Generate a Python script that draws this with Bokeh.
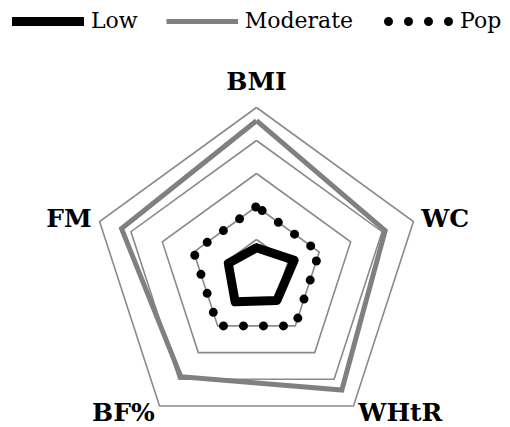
import numpy as np
from bokeh.plotting import figure
from bokeh.models import Range1d, Legend, LegendItem, ColumnDataSource
from bokeh.embed import file_html
from bokeh.resources import INLINE
from bokeh.core.properties import value

categories = ["BMI", "WC", "WHtR", "BF%", "FM"]
low = [0.75, 1.2, 1.05, 1.1, 0.9]
moderate = [4.6, 4.1, 4.4, 3.9, 4.3]
pop = [2.0, 2.0, 2.0, 2.0, 2.0]
grid_levels = [1, 2, 3, 4, 5]

W, H = 510, 427
S = 33.0           # pixels per unit
CX, CY = 256, 272  # centre of the radar inside the figure (px from top-left)
LABEL_R = [5.8, 5.25, 5.25, 5.25, 5.25]
LABEL_ALIGN = ["center", "left", "left", "right", "right"]
FONT = "DejaVu Serif"

angles = np.pi / 2 - 2 * np.pi * np.arange(len(categories)) / len(categories)


def poly(vals):
    v = np.asarray(vals, float)
    xs = v * np.cos(angles)
    ys = v * np.sin(angles)
    return list(np.append(xs, xs[0])), list(np.append(ys, ys[0]))


p = figure(width=W, height=H,
           x_range=Range1d(-CX / S, (W - CX) / S),
           y_range=Range1d(-(H - CY) / S, CY / S),
           output_backend="svg", toolbar_location=None, min_border=0,
           x_axis_type=None, y_axis_type=None)
p.outline_line_color = None
p.background_fill_color = "white"

for lvl in grid_levels:
    gx, gy = poly([lvl] * len(categories))
    p.line(gx, gy, line_color="#8a8a8a", line_width=1.6, line_join="miter")

mx, my = poly(moderate)
r_mod = p.line(mx, my, line_color="#808080", line_width=5, line_join="miter")

px, py = poly(pop)
r_pop = p.line(px, py, line_color="black", line_width=9, line_dash="0 20",
               line_dash_offset=13, line_cap="round", line_join="round")

lx, ly = poly(low)
r_low = p.line(lx, ly, line_color="black", line_width=9, line_join="round",
               line_cap="round")

lab_src = ColumnDataSource(dict(
    x=[r * np.cos(a) for r, a in zip(LABEL_R, angles)],
    y=[r * np.sin(a) for r, a in zip(LABEL_R, angles)],
    text=categories,
    align=LABEL_ALIGN,
))
p.text("x", "y", text="text", source=lab_src, text_align="align",
       text_baseline="middle", text_font=value(FONT), text_font_style="bold",
       text_font_size="25px", text_color="black")

legend = Legend(items=[LegendItem(label="Low", renderers=[r_low]),
                       LegendItem(label="Moderate", renderers=[r_mod]),
                       LegendItem(label="Pop", renderers=[r_pop])],
                orientation="horizontal", location=(12, 394),
                glyph_width=72, glyph_height=20, label_standoff=7,
                spacing=28, padding=0, margin=0,
                border_line_color=None, background_fill_alpha=0,
                label_text_font=FONT, label_text_font_size="22px",
                label_text_color="black")
p.add_layout(legend)

open("out.html", "w").write(file_html(p, INLINE))
